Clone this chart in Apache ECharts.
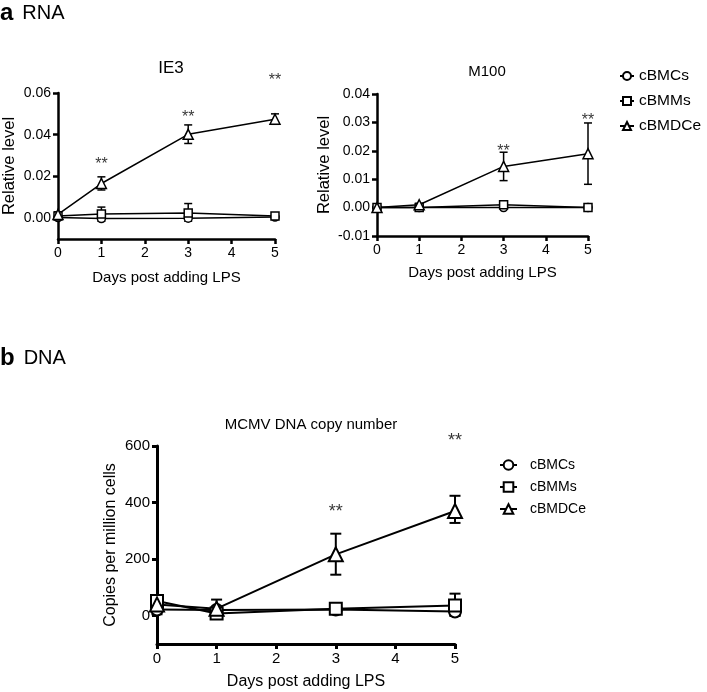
<!DOCTYPE html>
<html><head><meta charset="utf-8">
<script src="https://cdn.jsdelivr.net/npm/echarts@6/dist/echarts.min.js"></script>
<style>html,body{margin:0;padding:0;background:#fff}#c{width:707px;height:692px}</style>
</head><body><div id="c"></div>
<script>
const names = ['cBMCs','cBMMs','cBMDCe'];
const symbols = ['circle','rect','triangle'];
const days = [0,1,3,5];

// IE3 (relative level)
const ie3Means = {
  cBMCs:  [0.0003, -0.0002, 0.0000, 0.0005],
  cBMMs:  [0.0010, 0.0020, 0.0025, 0.0010],
  cBMDCe: [0.0018, 0.0166, 0.0402, 0.0474]
};
const ie3Lo = {
  cBMCs:  [-0.0005, -0.0015, -0.0015, 0.0000],
  cBMMs:  [-0.0005, 0.0000, 0.0000, 0.0000],
  cBMDCe: [0.0005, 0.0135, 0.0358, 0.0450]
};
const ie3Hi = {
  cBMCs:  [0.0010, 0.0010, 0.0012, 0.0012],
  cBMMs:  [0.0025, 0.0053, 0.0070, 0.0020],
  cBMDCe: [0.0030, 0.0198, 0.0447, 0.0500]
};
const ie3Stars = [[1,0.0276],[3,0.0500],[5,0.0680]];

// M100 (relative level)
const m100Means = {
  cBMCs:  [0, 0, 0, 0],
  cBMMs:  [0, 0, 0.0010, 0],
  cBMDCe: [0, 0.0010, 0.0145, 0.0190]
};
const m100Lo = {
  cBMCs:  [0, 0, -0.0005, 0],
  cBMMs:  [0, 0, 0.0002, 0],
  cBMDCe: [0, 0.0005, 0.0095, 0.0082]
};
const m100Hi = {
  cBMCs:  [0, 0, 0.0005, 0],
  cBMMs:  [0, 0, 0.0018, 0],
  cBMDCe: [0, 0.0015, 0.0195, 0.0298]
};
const m100Stars = [[3,0.0213],[5,0.0320]];

// DNA copies per million cells
const dnaMeans = {
  cBMCs:  [22, 20, 22, 15],
  cBMMs:  [52, 8, 25, 36],
  cBMDCe: [40, 25, 217, 370]
};
const dnaLo = {
  cBMCs:  [5, 12, 15, 0],
  cBMMs:  [35, 0, 18, 0],
  cBMDCe: [25, 10, 145, 328]
};
const dnaHi = {
  cBMCs:  [40, 28, 30, 30],
  cBMMs:  [68, 20, 32, 78],
  cBMDCe: [55, 57, 290, 424]
};
const dnaStars = [[3,382],[5,633]];

const FONT = 'Liberation Sans, Arial, sans-serif';

function errRender(capW, lw) {
  return function (params, api) {
    const x = api.value(0), lo = api.value(1), hi = api.value(2);
    const p1 = api.coord([x, lo]), p2 = api.coord([x, hi]);
    const st = {stroke:'#000', lineWidth: lw};
    return {type:'group', children:[
      {type:'line', shape:{x1:p1[0],y1:p1[1],x2:p2[0],y2:p2[1]}, style:st},
      {type:'line', shape:{x1:p1[0]-capW/2,y1:p1[1],x2:p1[0]+capW/2,y2:p1[1]}, style:st},
      {type:'line', shape:{x1:p2[0]-capW/2,y1:p2[1],x2:p2[0]+capW/2,y2:p2[1]}, style:st}
    ]};
  };
}

const series = [];
function addPanel(idx, means, lo, hi, stars, symSize, lw, capW, starSize) {
  names.forEach((n, k) => {
    series.push({
      type:'custom', name:'err', xAxisIndex:idx, yAxisIndex:idx,
      renderItem: errRender(capW, lw), z: 2,
      data: days.map((d,i) => [d, lo[n][i], hi[n][i]]),
      encode:{x:0, y:[1,2]}, silent:true
    });
  });
  names.forEach((n, k) => {
    series.push({
      type:'line', name:n, xAxisIndex:idx, yAxisIndex:idx,
      data: days.map((d,i) => [d, means[n][i]]),
      symbol: symbols[k], symbolSize: k===2 ? symSize+2 : symSize,
      showAllSymbol:true, z: 3,
      lineStyle:{color:'#000', width:lw},
      itemStyle:{color:'#fff', borderColor:'#000', borderWidth:lw},
      emphasis:{disabled:true}, animation:false
    });
  });
  series.push({
    type:'scatter', name:'stars', xAxisIndex:idx, yAxisIndex:idx, clip:false,
    symbolSize:0, data: stars,
    label:{show:true, position:'inside', formatter:'**', color:'#000',
      fontFamily:FONT, fontSize:starSize, offset:[0,4]}
  });
}
addPanel(0, ie3Means, ie3Lo, ie3Hi, ie3Stars, 8, 1.5, 8, 16);
addPanel(1, m100Means, m100Lo, m100Hi, m100Stars, 8, 1.5, 8, 16);
addPanel(2, dnaMeans, dnaLo, dnaHi, dnaStars, 12, 2, 11, 18);

function xAx(idx, lw, fs, nfs, gap) {
  return {
    type:'value', gridIndex:idx, min:0, max:5, interval:1,
    name:'Days post adding LPS', nameLocation:'middle', nameGap:gap,
    nameTextStyle:{color:'#000', fontFamily:FONT, fontSize:nfs},
    axisLine:{onZero:false, lineStyle:{color:'#000', width:lw}},
    axisTick:{show:true, length:5, lineStyle:{color:'#000', width:lw}},
    axisLabel:{color:'#000', fontFamily:FONT, fontSize:fs, margin:7},
    splitLine:{show:false}
  };
}
function yAx(idx, min, max, interval, custom, fmt, name, lw, fs, nfs, gap) {
  const ax = {
    type:'value', gridIndex:idx, min:min, max:max, interval:interval,
    name:name, nameLocation:'middle', nameGap:gap,
    nameTextStyle:{color:'#000', fontFamily:FONT, fontSize:nfs},
    axisLine:{onZero:false, lineStyle:{color:'#000', width:lw}},
    axisTick:{show:true, length:5, lineStyle:{color:'#000', width:lw}},
    axisLabel:{color:'#000', fontFamily:FONT, fontSize:fs, margin:7, formatter:fmt},
    splitLine:{show:false}
  };
  if (custom) { ax.axisLabel.customValues = custom; ax.axisTick.customValues = custom; }
  return ax;
}

const ie3Ticks = [0, 0.02, 0.04, 0.06];
const dnaTicks = [0, 200, 400, 600];

const option = {
  animation:false,
  textStyle:{fontFamily:FONT},
  title:[
    {text:'IE3', left:166, top:55, textAlign:'center', textStyle:{fontFamily:FONT, fontSize:17, fontWeight:'normal', color:'#000'}},
    {text:'M100', left:482, top:59, textAlign:'center', textStyle:{fontFamily:FONT, fontSize:15, fontWeight:'normal', color:'#000'}},
    {text:'MCMV DNA copy number', left:306, top:412, textAlign:'center', textStyle:{fontFamily:FONT, fontSize:15, fontWeight:'normal', color:'#000'}}
  ],
  graphic:[
    {type:'text', left:0, top:1, style:{text:'{b|a}{n|RNA}', rich:{b:{fontFamily:FONT, fontSize:24, fontWeight:'bold', fill:'#000', padding:[0,9,0,0]}, n:{fontFamily:FONT, fontSize:20, fill:'#000'}}}},
    {type:'text', left:0, top:346, style:{text:'{b|b}{n|DNA}', rich:{b:{fontFamily:FONT, fontSize:24, fontWeight:'bold', fill:'#000', padding:[0,9,0,0]}, n:{fontFamily:FONT, fontSize:20, fill:'#000'}}}}
  ],
  legend:[
    {data:names, orient:'vertical', left:614, top:63, itemWidth:14, itemHeight:10, itemGap:9,
     textStyle:{fontFamily:FONT, fontSize:15.5, color:'#000', padding:[0,0,0,0]}, selectedMode:false},
    {data:names, orient:'vertical', left:494, top:453, itemWidth:17, itemHeight:12, itemGap:8,
     textStyle:{fontFamily:FONT, fontSize:14, color:'#000', padding:[0,0,0,8]}, selectedMode:false}
  ],
  grid:[
    {left:58, top:93, width:217, height:146},
    {left:377, top:94, width:211, height:142},
    {left:157, top:446, width:298, height:198}
  ],
  xAxis:[ xAx(0, 2.5, 14, 15, 31), xAx(1, 2.5, 14, 15, 29), xAx(2, 3, 15, 16, 30) ],
  yAxis:[
    yAx(0, -0.01, 0.06, 0.01, ie3Ticks, v => v.toFixed(2), 'Relative level', 2.5, 14, 16.5, 40),
    yAx(1, -0.01, 0.04, 0.01, null, v => v.toFixed(2), 'Relative level', 2.5, 14, 16.5, 44),
    yAx(2, -100, 600, 100, dnaTicks, v => String(v), 'Copies per million cells', 3, 15, 16, 38)
  ],
  series: series
};
const chart = echarts.init(document.getElementById('c'), null, {renderer:'canvas'});
chart.setOption(option);
</script></body></html>
